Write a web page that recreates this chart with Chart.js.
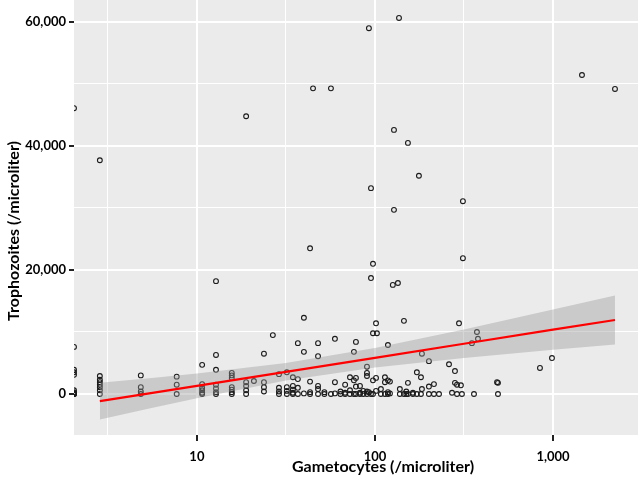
<!DOCTYPE html>
<html>
<head>
<meta charset="utf-8">
<script src="https://cdn.jsdelivr.net/npm/chart.js@4/dist/chart.umd.min.js"></script>
<style>
  html, body { margin: 0; padding: 0; background: #fff; }
  #wrap { width: 638px; height: 480px; }
</style>
</head>
<body>
<div id="wrap"><canvas id="scatterChart"></canvas></div>
<script>
// axis limits and ticks
const xMin = 2.04, xMax = 3003;
const yMin = -6613, yMax = 63548;
const xMajorTicks = [10, 100, 1000];
const xMinorTicks = [3.162, 31.62, 316.2];
const yMajorTicks = [0, 20000, 40000, 60000];
const yMinorTicks = [10000, 30000, 50000];

// gametocytes (x) and trophozoites (y), per microliter; zero gametocytes sit on the panel edge
const gamX = [
  2.04, 2.04, 2.04, 2.04, 2.04, 2.04, 2.04, 2.04, 2.04, 2.04, 2.04,
  2.85, 2.85, 2.85, 2.85, 2.85, 2.85, 2.85, 2.85,
  4.84, 4.84, 4.84, 4.84,
  7.7, 7.7, 7.7,
  10.7, 10.7, 10.7, 10.7, 10.7, 10.7,
  12.8, 12.8, 12.8, 12.8, 12.8, 12.8, 12.8,
  15.7, 15.7, 15.7, 15.7, 15.7, 15.7, 15.7,
  18.9, 18.9, 18.9, 18.9, 18.9,
  20.9,
  23.8, 23.8, 23.8, 23.8,
  26.7,
  28.9, 28.9, 28.9, 28.9,
  32, 32, 32, 32,
  34.6, 34.6, 34.6, 34.6, 34.6,
  36.9, 36.9, 36.9, 36.9,
  39.9, 39.9, 39.9,
  43.2, 43.2, 43.2, 43.2,
  44.9,
  47.9, 47.9, 47.9, 47.9, 47.9,
  52, 52,
  56.6, 56.6,
  59.6, 59.6, 59.6,
  64, 64,
  68, 68, 68,
  72.4, 72.4, 72.4,
  76.2, 76.2, 76.2,
  78.2, 78.2, 78.2, 78.2,
  82.4, 82.4, 82.4,
  86, 86,
  90.2, 90.2, 90.2, 90.2, 90.2,
  92.5, 92.5,
  95, 95, 95,
  97.5, 97.5, 97.5, 97.5,
  101.4, 101.4, 101.4,
  102.6,
  108, 108,
  113.8, 113.8, 113.8,
  118.3, 118.3, 118.3, 118.3,
  121.4, 121.4,
  127.9, 127.9, 126,
  134.6,
  136.5,
  138, 138,
  145.5, 145.5,
  150, 150,
  153.2, 153.2, 153.2,
  163.4, 163.4,
  172, 172,
  176.6,
  181.3, 181.3,
  183.6, 183.6,
  201, 201, 201,
  214.5, 214.5,
  229,
  260.6,
  271,
  281.5, 281.5,
  289, 289,
  296.6,
  304,
  312, 312, 308,
  350.5,
  360,
  374,
  379,
  485,
  491, 491,
  845,
  987,
  1455,
  2230
];
const trophY = [
  46100, 7600, 3900, 3500, 3100, 600, 300, 150, 0, 0, 0,
  37700, 2900, 2300, 1900, 1500, 1100, 600, 0,
  3000, 1100, 400, 0,
  2800, 1500, 0,
  4700, 1600, 1000, 600, 200, 0,
  18200, 6300, 3900, 1500, 900, 300, 0,
  3400, 3000, 2600, 1100, 700, 300, 0,
  44800, 1900, 1300, 600, 0,
  2100,
  6500, 1900, 1100, 400,
  9500,
  3200, 1000, 400, 0,
  3500, 1100, 500, 0,
  2700, 1300, 700, 200, 0,
  8200, 2400, 1000, 0,
  12300, 6800, 100,
  23500, 2000, 300, 0,
  49300,
  8200, 6100, 1300, 800, 0,
  300, 0,
  49300, 0,
  8900, 1900, 100,
  400, 0,
  1500, 200, 0,
  2700, 600, 0,
  6800, 2200, 0,
  8400, 2600, 1200, 0,
  1300, 200, 0,
  500, 0,
  4400, 3400, 2900, 400, 0,
  59000, 300,
  33200, 18700, 0,
  21000, 9800, 2200, 0,
  11400, 2600, 500,
  9800,
  800, 0,
  2700, 1900, 0,
  7900, 2200, 300, 0,
  2000, 100,
  42600, 29700, 17600,
  17900,
  60650,
  800, 0,
  11800, 0,
  400, 0,
  40500, 1800, 0,
  200, 0,
  3500, 0,
  35200,
  2700, 0,
  6500, 800,
  5300, 1200, 0,
  1600, 0,
  0,
  4800,
  200,
  3700, 1800,
  1500, 0,
  11400,
  1400,
  31100, 21900, 0,
  8200,
  0,
  10000,
  8900,
  1900,
  1800, 0,
  4200,
  5800,
  51450,
  49200
];

// fitted line and its confidence band, read at a few x positions
const fitX = [2.85, 5.4, 10, 31.6, 100, 316, 1000, 2230];
const fitY = [-1150, 100, 1320, 3580, 5840, 8100, 10370, 11940];
const bandUpper = [1830, 2550, 3320, 5000, 7400, 10390, 13610, 15890];
const bandLower = [-4130, -2350, -680, 2160, 4280, 5810, 7130, 7990];

const points = gamX.map((x, i) => ({ x: x, y: trophY[i] }));
const toXY = (ys) => fitX.map((x, i) => ({ x: x, y: ys[i] }));

const isMajorX = (v) => xMajorTicks.some(t => Math.abs(t - v) < 1e-6);
const isMajorY = (v) => yMajorTicks.includes(v);

// grey panel behind the grid, axis titles drawn where the reference puts them
const panelPlugin = {
    id: 'panel',
    beforeDraw: (chart) => {
        const { ctx, chartArea: { left, top, width, height } } = chart;
        ctx.save();
        ctx.fillStyle = '#ebebeb';
        ctx.fillRect(left, top, width, height);
        ctx.restore();
    },
    afterDraw: (chart) => {
        const { ctx } = chart;
        ctx.save();
        ctx.fillStyle = '#000';
        ctx.font = 'bold 16px Lato, "Open Sans", sans-serif';
        ctx.textAlign = 'center';
        ctx.textBaseline = 'middle';
        ctx.fillText('Gametocytes (/microliter)', 383, 467);
        ctx.translate(14, 231);
        ctx.rotate(-Math.PI / 2);
        ctx.fillText('Trophozoites (/microliter)', 0, 0);
        ctx.restore();
    }
};

const ctx = document.getElementById('scatterChart').getContext('2d');
new Chart(ctx, {
    type: 'scatter',
    data: {
        datasets: [
            {
                type: 'line',
                label: 'upper',
                data: toXY(bandUpper),
                borderWidth: 0,
                pointRadius: 0,
                backgroundColor: 'rgba(153,153,153,0.4)',
                fill: '+1',
                order: 2
            },
            {
                type: 'line',
                label: 'lower',
                data: toXY(bandLower),
                borderWidth: 0,
                pointRadius: 0,
                fill: false,
                order: 2
            },
            {
                type: 'line',
                label: 'fit',
                data: toXY(fitY),
                borderColor: '#ff0000',
                borderWidth: 2.2,
                pointRadius: 0,
                fill: false,
                order: 1
            },
            {
                label: 'samples',
                data: points,
                pointRadius: 2.4,
                pointBorderWidth: 1.1,
                borderColor: '#1a1a1a',
                backgroundColor: 'rgba(0,0,0,0)',
                clip: 0,
                order: 3
            }
        ]
    },
    options: {
        responsive: true,
        maintainAspectRatio: false,
        animation: false,
        layout: { padding: 0, autoPadding: false },
        plugins: {
            legend: { display: false },
            tooltip: { enabled: false }
        },
        scales: {
            x: {
                type: 'logarithmic',
                min: xMin,
                max: xMax,
                afterBuildTicks: (scale) => {
                    scale.ticks = xMinorTicks.concat(xMajorTicks).sort((a, b) => a - b).map(v => ({ value: v }));
                },
                afterFit: (scale) => {
                    scale.height = 45;
                    scale.paddingLeft = 0;
                    scale.paddingRight = 0;
                },
                border: { display: false },
                grid: {
                    color: '#ffffff',
                    lineWidth: (c) => (c.tick && isMajorX(c.tick.value)) ? 2 : 1,
                    tickColor: (c) => (c.tick && isMajorX(c.tick.value)) ? '#222' : 'rgba(0,0,0,0)',
                    tickWidth: 2,
                    tickLength: 6
                },
                ticks: {
                    autoSkip: false,
                    maxRotation: 0,
                    padding: 8,
                    color: '#000',
                    font: { family: 'Lato, "Open Sans", sans-serif', size: 13, weight: 'bold' },
                    callback: (value) => isMajorX(value) ? Number(value).toLocaleString('en-US') : ''
                }
            },
            y: {
                type: 'linear',
                min: yMin,
                max: yMax,
                afterBuildTicks: (scale) => {
                    scale.ticks = yMajorTicks.concat(yMinorTicks).sort((a, b) => a - b).map(v => ({ value: v }));
                },
                afterFit: (scale) => {
                    scale.width = 74;
                    scale.paddingTop = 0;
                    scale.paddingBottom = 0;
                },
                border: { display: false },
                grid: {
                    color: '#ffffff',
                    lineWidth: (c) => (c.tick && isMajorY(c.tick.value)) ? 2 : 1,
                    tickColor: (c) => (c.tick && isMajorY(c.tick.value)) ? '#222' : 'rgba(0,0,0,0)',
                    tickWidth: 2,
                    tickLength: 5
                },
                ticks: {
                    autoSkip: false,
                    padding: 3,
                    color: '#000',
                    font: { family: 'Lato, "Open Sans", sans-serif', size: 13, weight: 'bold' },
                    callback: (value) => isMajorY(value) ? value.toLocaleString('en-US') : ''
                }
            }
        }
    },
    plugins: [panelPlugin]
});
</script>
</body>
</html>
